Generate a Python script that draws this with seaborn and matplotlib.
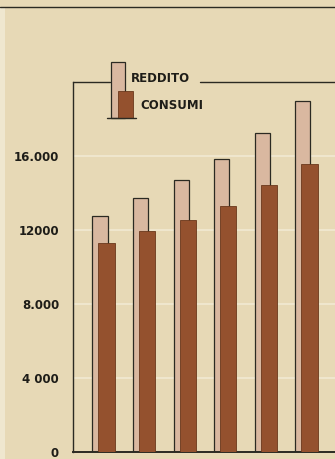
import numpy as np
import pandas as pd
import matplotlib
matplotlib.use("Agg")
import matplotlib.pyplot as plt
from matplotlib.patches import Rectangle
from matplotlib.lines import Line2D
import seaborn as sns

# valori (nessuna etichetta sull'asse x)
periodi = ["1", "2", "3", "4", "5", "6"]
reddito = [12770, 13710, 14700, 15820, 17260, 18990]
consumi = [11310, 11960, 12540, 13300, 14430, 15570]
y_ticks = [0, 4000, 8000, 12000, 16000]
y_labels = ["0", "4 000", "8.000", "12000", "16.000"]

SFONDO = "#e7d9b6"
CHIARO = "#d9b8a0"
SCURO = "#94512e"
INCHIOSTRO = "#2b2a22"

sns.set_theme(style="white")
plt.rcParams["font.family"] = ["DejaVu Sans"]

pos = np.arange(len(periodi))
df = pd.DataFrame({"periodo": periodi, "pos": pos,
                   "reddito": reddito, "consumi": consumi})

fig = plt.figure(figsize=(3.35, 4.59), dpi=100, facecolor=SFONDO)
ax = fig.add_axes([73 / 335, 1 - 452 / 459, 1 - 73 / 335, (452 - 82) / 459])
ax.set_facecolor(SFONDO)

# griglia chiara dietro le barre
for t in y_ticks[1:]:
    ax.axhline(t, color="#efe6cd", lw=1.5, zorder=0)

sns.barplot(data=df, x="pos", y="reddito", native_scale=True, width=0.37,
            color=CHIARO, edgecolor=INCHIOSTRO, linewidth=0.9,
            saturation=1, ax=ax, zorder=2)
df["pos_c"] = df["pos"] + 0.16
sns.barplot(data=df, x="pos_c", y="consumi", native_scale=True, width=0.40,
            color=SCURO, edgecolor="#6a381c", linewidth=0.6,
            saturation=1, ax=ax, zorder=3)

ax.set_xlim(-0.665, 5.79)
ax.set_ylim(0, 20000)
ax.set_xticks([])
ax.set_yticks(y_ticks)
ax.set_yticklabels(y_labels, fontsize=8.5, fontweight="bold", color="#1e1d18")
ax.tick_params(axis="y", length=0, pad=10)
ax.set_xlabel("")
ax.set_ylabel("")

ax.spines["left"].set_color(INCHIOSTRO)
ax.spines["left"].set_linewidth(1.0)
ax.spines["bottom"].set_color(INCHIOSTRO)
ax.spines["bottom"].set_linewidth(1.4)
ax.spines["right"].set_visible(False)
ax.spines["top"].set_visible(False)

# bordo superiore interrotto dalla legenda
def fx(px):
    return (px - 73) / (335 - 73)

def fy(py):
    return (452 - py) / (452 - 82)

ax.add_line(Line2D([0, fx(110)], [1, 1], transform=ax.transAxes,
                   color=INCHIOSTRO, lw=1.0, clip_on=False))
ax.add_line(Line2D([fx(200), 1], [1, 1], transform=ax.transAxes,
                   color=INCHIOSTRO, lw=1.0, clip_on=False))

# legenda disegnata come nell'originale
ax.add_patch(Rectangle((fx(111), fy(118)), fx(125) - fx(111), fy(62) - fy(118),
                       transform=ax.transAxes, facecolor=CHIARO,
                       edgecolor=INCHIOSTRO, lw=0.9, clip_on=False, zorder=4))
ax.add_patch(Rectangle((fx(118), fy(118)), fx(133) - fx(118), fy(91) - fy(118),
                       transform=ax.transAxes, facecolor=SCURO,
                       edgecolor="#6a381c", lw=0.6, clip_on=False, zorder=5))
ax.add_line(Line2D([fx(107), fx(136)], [fy(118), fy(118)], transform=ax.transAxes,
                   color=INCHIOSTRO, lw=1.0, clip_on=False, zorder=6))
ax.text(fx(131), fy(78), "REDDITO", transform=ax.transAxes, fontsize=8.5,
        fontweight="bold", color="#1e1d18", va="center", ha="left")
ax.text(fx(140), fy(105), "CONSUMI", transform=ax.transAxes, fontsize=8.5,
        fontweight="bold", color="#1e1d18", va="center", ha="left")

# bordo della pagina in alto e striscia a sinistra
fig.add_artist(Line2D([0, 1], [1 - 7 / 459, 1 - 7 / 459], color=INCHIOSTRO, lw=1.0))
fig.add_artist(Rectangle((0, 0), 5 / 335, 1 - 8 / 459, facecolor="#efe7cf",
                         edgecolor="none"))

fig.savefig("out.png", dpi=100, facecolor=SFONDO)
